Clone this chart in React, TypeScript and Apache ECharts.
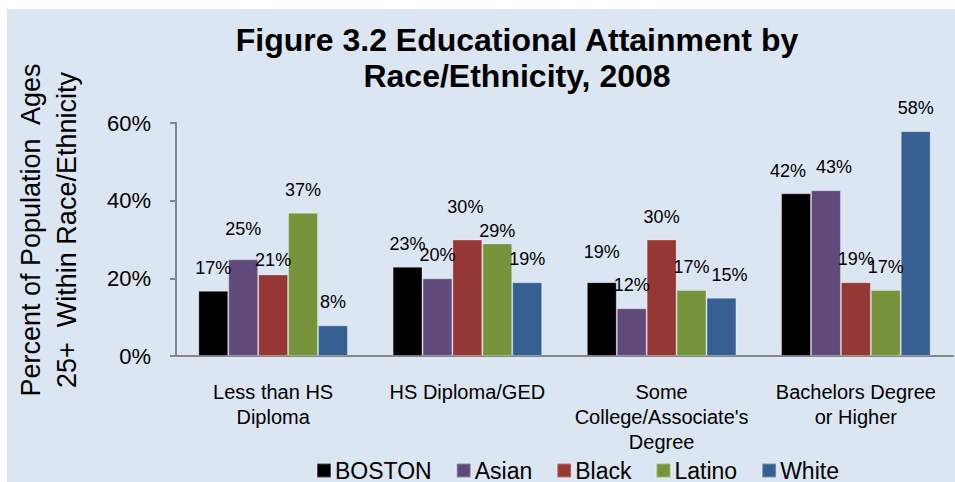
import React, { useEffect, useRef } from "react";
import * as echarts from "echarts";

const categories = [
  "Less than HS\nDiploma",
  "HS Diploma/GED",
  "Some\nCollege/Associate's\nDegree",
  "Bachelors Degree\nor Higher",
];
const seriesNames = ["BOSTON", "Asian", "Black", "Latino", "White"];
const boston = [16.8, 23, 19, 41.9];
const asian = [24.9, 20, 12.3, 42.7];
const black = [21, 30, 30, 19];
const latino = [36.9, 29, 17, 17];
const white = [7.9, 19, 15, 57.9];
const labelTexts = [
  ["17%", "23%", "19%", "42%"],
  ["25%", "20%", "12%", "43%"],
  ["21%", "30%", "30%", "19%"],
  ["37%", "29%", "17%", "17%"],
  ["8%", "19%", "15%", "58%"],
];
const yTicks = [0, 20, 40, 60];

const colors = ["#000000", "#604A7B", "#953735", "#77933C", "#376092"];
const FONT = "'Liberation Sans', Arial, sans-serif";

// label nudges [dx, dy] in pixels to mimic manual placement in the original
const labelNudge: Record<string, [number, number]> = {
  "1-0": [0, -7],
  "2-0": [0, 9],
  "2-1": [-2, -10],
  "3-1": [0, 11],
  "0-2": [0, -7],
  "4-2": [8, 0],
  "0-3": [-8, 1],
  "1-3": [8, 0],
};

export default function App() {
  const ref = useRef<HTMLDivElement>(null);
  useEffect(() => {
    if (!ref.current) return;
    const chart = echarts.init(ref.current, undefined, { renderer: "svg" });
    const values = [boston, asian, black, latino, white];
    chart.setOption({
      animation: false,
      backgroundColor: "#ffffff",
      textStyle: { fontFamily: FONT },
      graphic: [
        {
          type: "rect",
          z: -10,
          shape: { x: 7, y: 9, width: 960, height: 480 },
          style: { fill: "#DCE6F2" },
        },
        {
          type: "text",
          x: 49,
          y: 230,
          rotation: Math.PI / 2,
          style: {
            text: "Percent of Population  Ages\n25+  Within Race/Ethnicity",
            font: `27px ${FONT}`,
            fill: "#000",
            align: "center",
            verticalAlign: "middle",
            lineHeight: 36,
          },
        },
      ],
      title: {
        text: "Figure 3.2 Educational Attainment by\nRace/Ethnicity, 2008",
        left: 512,
        top: 17,
        textAlign: "center",
        textStyle: {
          fontFamily: FONT,
          fontWeight: "bold",
          fontSize: 32,
          lineHeight: 36,
          color: "#000",
        },
      },
      legend: {
        data: seriesNames,
        left: 311,
        top: 454,
        itemWidth: 14,
        itemHeight: 14,
        itemGap: 24,
        icon: "rect",
        textStyle: { fontFamily: FONT, fontSize: 23, color: "#000", padding: [0, 0, 0, -1] },
      },
      grid: { left: 176, right: 2, top: 123, bottom: 126, containLabel: false },
      xAxis: {
        type: "category",
        data: categories,
        axisLine: { lineStyle: { color: "#868686", width: 2 } },
        axisTick: { show: false },
        axisLabel: {
          interval: 0,
          margin: 23,
          fontFamily: FONT,
          fontSize: 20,
          lineHeight: 25,
          color: "#000",
        },
      },
      yAxis: {
        type: "value",
        min: yTicks[0],
        max: yTicks[yTicks.length - 1],
        interval: 20,
        splitLine: { show: false },
        axisLine: { show: true, lineStyle: { color: "#868686", width: 2 } },
        axisTick: { show: true, length: 6, lineStyle: { color: "#868686", width: 2 } },
        axisLabel: {
          margin: 25,
          fontFamily: FONT,
          fontSize: 22,
          color: "#000",
          formatter: "{value}%",
        },
      },
      series: seriesNames.map((name, si) => ({
        name,
        type: "bar",
        barGap: "0%",
        barCategoryGap: "23%",
        itemStyle: {
          color: colors[si],
          borderColor: "rgba(255,255,255,0.3)",
          borderWidth: 1,
        },
        label: {
          show: true,
          position: "top",
          distance: 14,
          fontFamily: FONT,
          fontSize: 18,
          color: "#000",
        },
        data: values[si].map((v, ci) => {
          const nudge = labelNudge[`${si}-${ci}`] || [0, 0];
          return {
            value: v,
            label: {
              formatter: labelTexts[si][ci],
              offset: nudge,
            },
          };
        }),
      })),
    });
    return () => chart.dispose();
  }, []);
  return (
    <div
      ref={ref}
      style={{ position: "fixed", left: 0, top: 0, width: 955, height: 482 }}
    />
  );
}
